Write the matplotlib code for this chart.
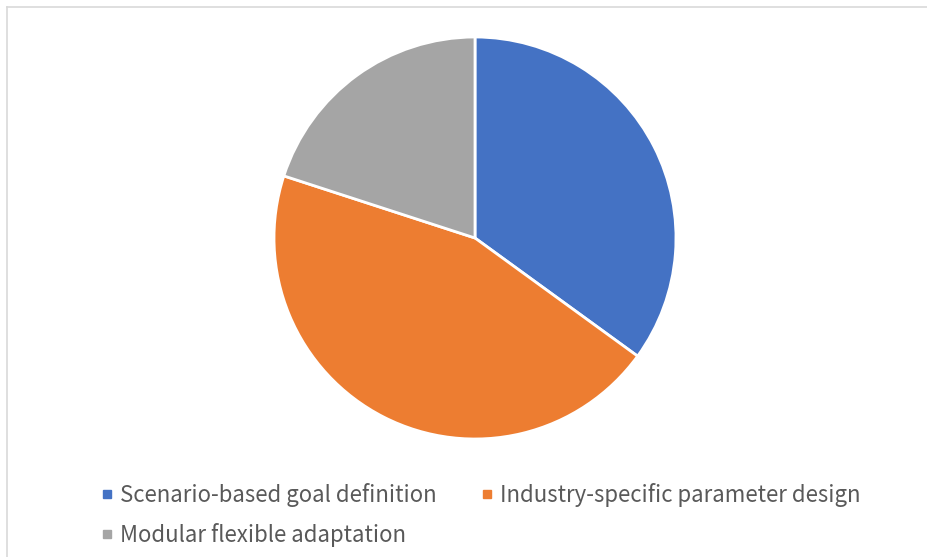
import matplotlib.pyplot as plt
from matplotlib.lines import Line2D

# Datos del gráfico
categorias = ['Scenario-based goal definition', 'Industry-specific parameter design', 'Modular flexible adaptation']
valores = [35, 45, 20]
colores = ['#4472C4', '#ED7D31', '#A5A5A5']

plt.rcParams['font.family'] = ['Noto Sans CJK SC', 'DejaVu Sans']

fig = plt.figure(figsize=(9.28, 5.57), dpi=100)

# Borde del área del gráfico (sólo se ven lados izquierdo y superior)
W, H = 928, 557
fig.add_artist(Line2D([7 / W, 7 / W], [0, 1 - 7 / H], color='#D9D9D9', lw=1.2))
fig.add_artist(Line2D([7 / W, 1], [1 - 7 / H, 1 - 7 / H], color='#D9D9D9', lw=1.2))

# Pastel
cx, cy, r = 475, 238, 201
ax = fig.add_axes([(cx - r) / W, (H - cy - r) / H, 2 * r / W, 2 * r / H])
ax.pie(valores, colors=colores, startangle=90, counterclock=False,
       wedgeprops=dict(edgecolor='white', linewidth=2))
ax.set_xlim(-1, 1)
ax.set_ylim(-1, 1)
ax.set_aspect('equal')

# Leyenda (orden por filas)
orden = [0, 2, 1]
handles = [Line2D([], [], marker='s', linestyle='', color=colores[i], markersize=6) for i in orden]
etiquetas = [categorias[i] for i in orden]
fig.legend(handles, etiquetas, loc='upper left', bbox_to_anchor=(81 / W, 1 - 463 / H),
           ncol=2, frameon=False, labelcolor='#595959',
           prop=dict(size=16, weight='light'),
           handlelength=0.5, handletextpad=0.35, columnspacing=2.0, labelspacing=0.7)

fig.savefig('out.png', dpi=100, facecolor='white')
